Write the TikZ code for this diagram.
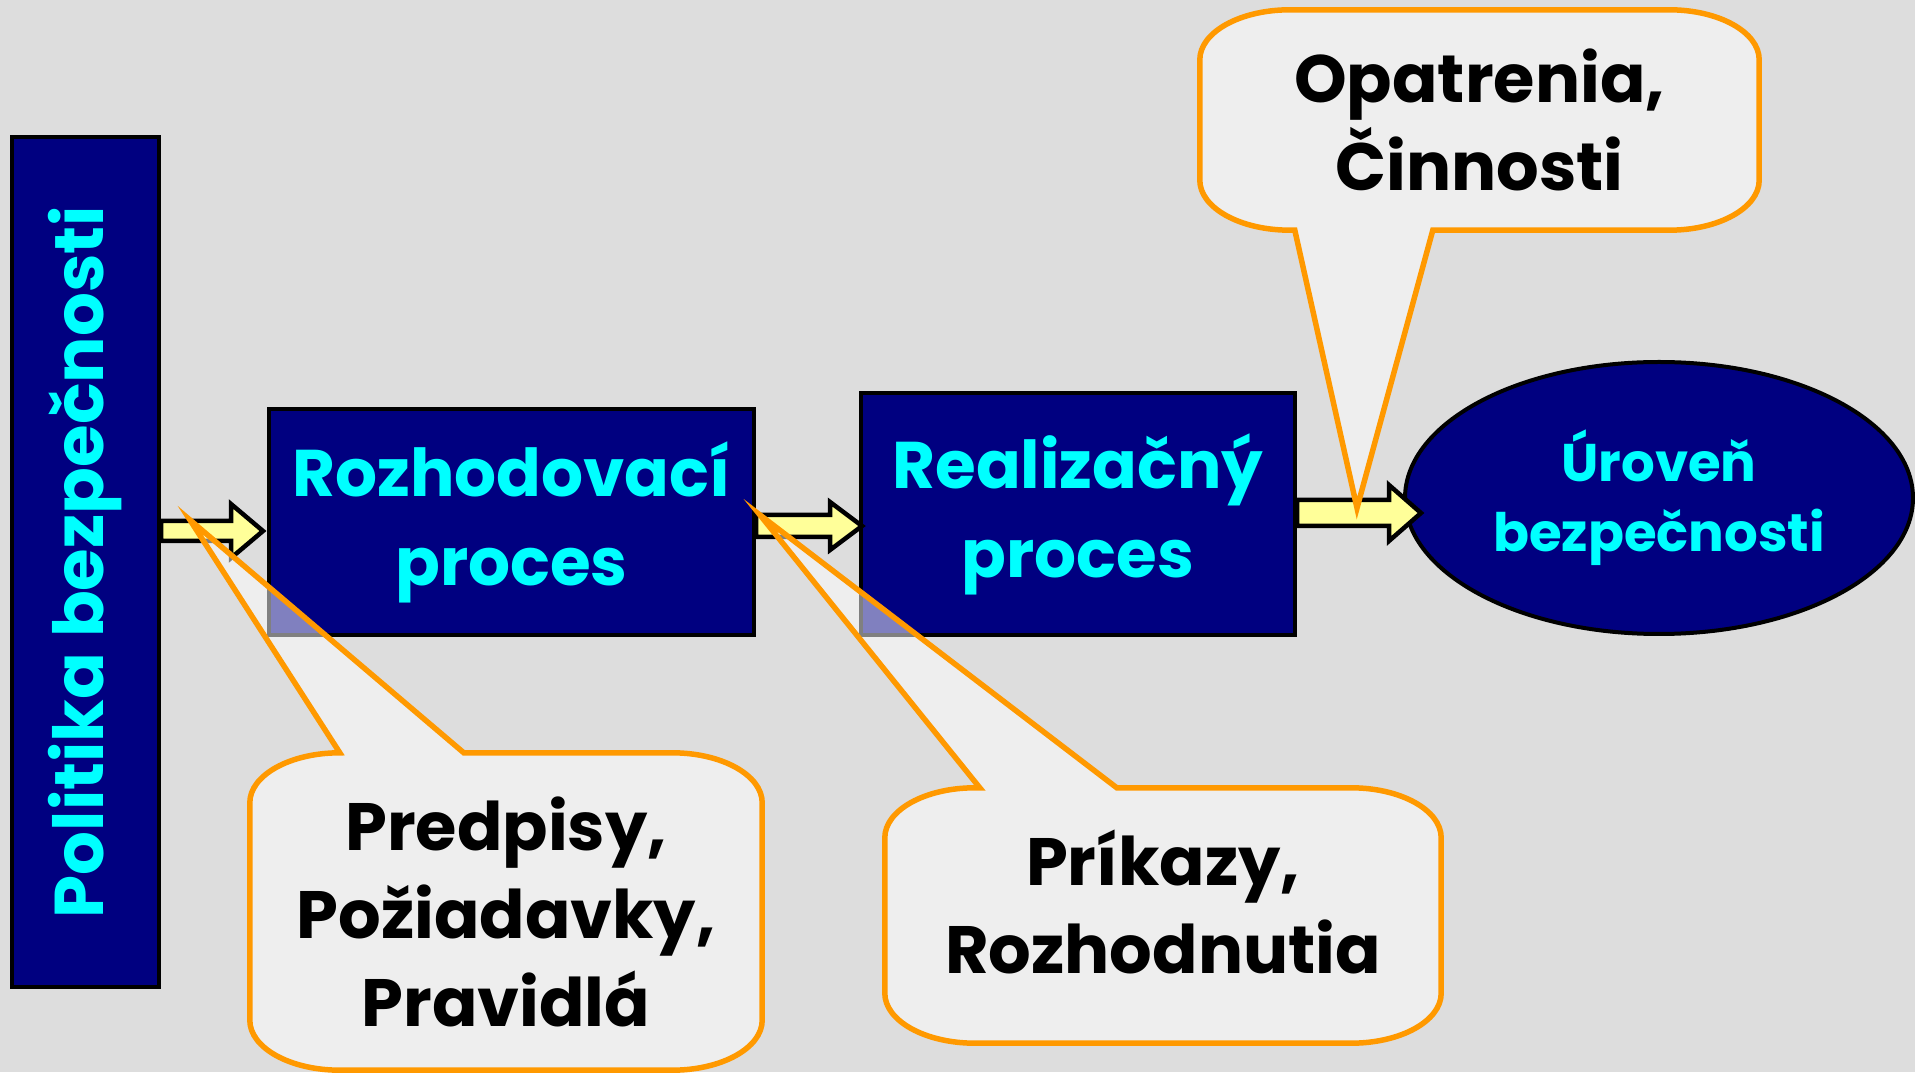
\documentclass[tikz,border=0pt]{standalone}
\usepackage{fontspec}
\setmainfont{Poppins}
\usetikzlibrary{shapes,calc,positioning}
\definecolor{bgray}{RGB}{221,221,221}
\definecolor{navy}{RGB}{0,0,128}
\definecolor{aqua}{RGB}{0,255,255}
\definecolor{bubbleorange}{RGB}{255,153,0}
\definecolor{arrowyellow}{RGB}{255,255,153}
\tikzstyle{box} = [rectangle, draw=black, line width=4, fill=navy, text=aqua, align=center, inner sep=0, font=\fontsize{66}{89}\selectfont\bfseries]
\tikzstyle{goal} = [ellipse, draw=black, line width=4, fill=navy, text=aqua, align=center, inner sep=0, font=\fontsize{53}{70}\selectfont\bfseries]
\tikzstyle{fat} = [draw=black, line width=4.5, fill=arrowyellow, line join=miter]
\tikzstyle{bubble} = [rectangle, draw=none, inner sep=0]
\tikzstyle{bubbleline} = [draw=bubbleorange, line width=5.5, fill=white, fill opacity=0.5, line join=miter]
\tikzstyle{bubbletext} = [align=center, text=black, font=\fontsize{67}{88}\selectfont\bfseries]
% block arrow: from, to, y, shaft half, head half
\newcommand{\fatarrow}[5]{%
  \draw[fat] let \p1=(#1), \p2=(#2) in
    (\x1,#3+#4) -- (\x2-32,#3+#4) -- (\x2-32,#3+#5) -- (\x2,#3)
    -- (\x2-32,#3-#5) -- (\x2-32,#3-#4) -- (\x1,#3-#4) -- cycle;}
% speech bubble, tail on top: node, tail left, tail right, tip
\newcommand{\bubbletop}[4]{%
  \path[bubbleline] ($(#1.north west)+(#2,0)$) -- (#4) -- ($(#1.north west)+(#3,0)$)
    -- ([xshift=-90]#1.north east) arc[start angle=90, end angle=0, x radius=90, y radius=50]
    -- ([yshift=50]#1.south east) arc[start angle=0, end angle=-90, x radius=90, y radius=50]
    -- ([xshift=90]#1.south west) arc[start angle=270, end angle=180, x radius=90, y radius=50]
    -- ([yshift=-50]#1.north west) arc[start angle=180, end angle=90, x radius=90, y radius=50]
    -- cycle;}
% speech bubble, tail below
\newcommand{\bubblebottom}[4]{%
  \path[bubbleline] ($(#1.south west)+(#2,0)$) -- (#4) -- ($(#1.south west)+(#3,0)$)
    -- ([xshift=-90]#1.south east) arc[start angle=-90, end angle=0, x radius=90, y radius=50]
    -- ([yshift=-50]#1.north east) arc[start angle=0, end angle=90, x radius=90, y radius=50]
    -- ([xshift=90]#1.north west) arc[start angle=90, end angle=180, x radius=90, y radius=50]
    -- ([yshift=50]#1.south west) arc[start angle=180, end angle=270, x radius=90, y radius=50]
    -- cycle;}

\begin{document}
\begin{tikzpicture}[x=1pt, y=1pt]
	\fill[bgray] (0,0) rectangle (1915,1072);
	\useasboundingbox (0,0) rectangle (1915,1072);
	
	\node [box, rotate=90, minimum width=850, minimum height=147, font=\fontsize{69}{89}\selectfont\bfseries] (politika) at (85.5,510) {Politika bezpečnosti};
	\node [box, minimum width=485, minimum height=226] (rozhod) at (511.5,550) {Rozhodovací\\proces};
	\node [box, minimum width=434, minimum height=242] (realiz) at (1078,558) {Realizačný\\proces};
	\node [goal, minimum width=508, minimum height=272] (uroven) at (1659,574) {Úroveň\\bezpečnosti};
	
	\fatarrow{politika.south}{[xshift=-4]rozhod.west}{541}{10}{27}
	\fatarrow{rozhod.east}{[xshift=3]realiz.west}{546}{11}{24}
	\fatarrow{realiz.east}{[xshift=18]uroven.west}{559}{13}{28}
	
	\coordinate (tip1) at (190,552);
	\coordinate (tip2) at (760,557);
	\coordinate (tip3) at (1357,564);
	
	\node [bubble, minimum width=512, minimum height=317] (predpisy) at (506,160.5) {};
	\bubbletop{predpisy}{90}{214}{tip1}
	\node [bubbletext] at (predpisy.center) {Predpisy,\\Požiadavky,\\Pravidlá};
	
	\node [bubble, minimum width=556, minimum height=255] (prikazy) at (1163,156.5) {};
	\bubbletop{prikazy}{95}{232}{tip2}
	\node [bubbletext, yshift=14] at (prikazy.center) {Príkazy,\\Rozhodnutia};
	
	\node [bubble, minimum width=559, minimum height=220] (opatrenia) at (1479.5,952) {};
	\bubblebottom{opatrenia}{95}{233}{tip3}
	\node [bubbletext] at (opatrenia.center) {Opatrenia,\\Činnosti};
\end{tikzpicture}
\end{document}
